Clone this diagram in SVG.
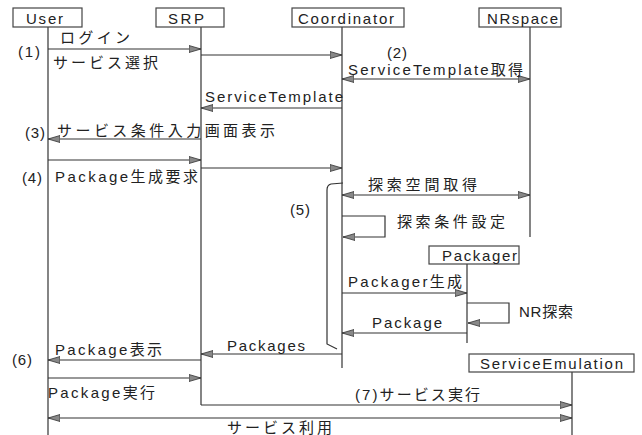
<svg xmlns="http://www.w3.org/2000/svg" width="642" height="435" viewBox="0 0 642 435">
<style>
text{font-family:"Liberation Sans","Noto Sans CJK JP",sans-serif;font-size:15px;fill:#222}
.box{fill:#fff;stroke:#444;stroke-width:1.2}
.life{stroke:#333;stroke-width:1.2;fill:none}
.msg{stroke:#333;stroke-width:1.2;fill:none;marker-end:url(#ah)}
.dbl{stroke:#333;stroke-width:1.2;fill:none;marker-end:url(#ah);marker-start:url(#ahs)}
</style>
<defs>
<marker id="ah" viewBox="0 0 12 8" refX="12" refY="4" markerWidth="12" markerHeight="8" markerUnits="userSpaceOnUse" orient="auto">
<path d="M0,0.5 L12,4 L0,7.5 z" fill="#888" stroke="#333" stroke-width="0.8"/>
</marker>
<marker id="ahs" viewBox="0 0 12 8" refX="0" refY="4" markerWidth="12" markerHeight="8" markerUnits="userSpaceOnUse" orient="auto">
<path d="M12,0.5 L0,4 L12,7.5 z" fill="#888" stroke="#333" stroke-width="0.8"/>
</marker>
</defs>
<rect width="642" height="435" fill="#fff"/>

<g id="lifelines">
<line class="life" x1="48" y1="27" x2="48" y2="435"/>
<line class="life" x1="201" y1="27" x2="201" y2="405"/>
<line class="life" x1="342" y1="27" x2="342" y2="368"/>
<line class="life" x1="530" y1="27" x2="530" y2="237"/>
<line class="life" x1="467" y1="264" x2="467" y2="343"/>
<line class="life" x1="572" y1="372" x2="572" y2="435"/>
</g>

<g id="user">
<rect class="box" x="13" y="8" width="69" height="19"/>
<text x="26" y="24" textLength="37">User</text>
</g>
<g id="srp">
<rect class="box" x="156" y="8" width="68" height="19"/>
<text x="168" y="24" textLength="36">SRP</text>
</g>
<g id="coordinator">
<rect class="box" x="292" y="8" width="112" height="19"/>
<text x="298" y="24" textLength="96">Coordinator</text>
</g>
<g id="nrspace">
<rect class="box" x="479" y="8" width="82" height="19"/>
<text x="487" y="24" textLength="71">NRspace</text>
</g>
<g id="packager">
<rect class="box" x="429" y="246" width="90" height="18"/>
<text x="442" y="261" textLength="75">Packager</text>
</g>
<g id="serviceemulation">
<rect class="box" x="469" y="354" width="165" height="18"/>
<text x="480" y="369" textLength="143">ServiceEmulation</text>
</g>

<g id="connectors">
<line class="msg" x1="48" y1="49" x2="201" y2="49"/>
<line class="msg" x1="201" y1="55" x2="342" y2="55"/>
<line class="dbl" x1="342" y1="79" x2="530" y2="79"/>
<line class="msg" x1="342" y1="108" x2="201" y2="108"/>
<line class="msg" x1="201" y1="139" x2="48" y2="139"/>
<line class="msg" x1="48" y1="160" x2="201" y2="160"/>
<line class="msg" x1="201" y1="168" x2="342" y2="168"/>
<line class="dbl" x1="342" y1="195" x2="530" y2="195"/>
<polyline class="msg" points="342,216 385,216 385,237 343,237"/>
<line class="msg" x1="342" y1="293" x2="467" y2="293"/>
<polyline class="msg" points="467,303 509,303 509,323 468,323"/>
<line class="msg" x1="467" y1="333" x2="342" y2="333"/>
<line class="msg" x1="342" y1="354" x2="201" y2="354"/>
<line class="msg" x1="201" y1="360" x2="48" y2="360"/>
<line class="msg" x1="48" y1="378" x2="201" y2="378"/>
<line class="msg" x1="201" y1="405" x2="572" y2="405"/>
<line class="dbl" x1="48" y1="418" x2="572" y2="418"/>
<path class="life" d="M343,183 L331,184 Q327,185 327,190 L327,344 L337,349"/>
</g>

<g id="labels">
<text x="60" y="43" textLength="70">ログイン</text>
<text x="18" y="57" textLength="22">(1)</text>
<text x="53" y="68" textLength="105">サービス選択</text>
<text x="387" y="58" textLength="20">(2)</text>
<text x="348" y="75" textLength="175">ServiceTemplate取得</text>
<text x="205" y="102" textLength="138">ServiceTemplate</text>
<text x="25" y="138" textLength="20">(3)</text>
<text x="57" y="136" textLength="218">サービス条件入力画面表示</text>
<text x="22" y="183" textLength="20">(4)</text>
<text x="55" y="182" textLength="143">Package生成要求</text>
<text x="290" y="215" textLength="20">(5)</text>
<text x="368" y="190" textLength="109">探索空間取得</text>
<text x="397" y="227" textLength="108">探索条件設定</text>
<text x="348" y="287" textLength="114">Packager生成</text>
<text x="519" y="317" textLength="54">NR探索</text>
<text x="372" y="328" textLength="70">Package</text>
<text x="227" y="351" textLength="78">Packages</text>
<text x="12" y="365" textLength="20">(6)</text>
<text x="55" y="355" textLength="107">Package表示</text>
<text x="48" y="398" textLength="107">Package実行</text>
<text x="355" y="400" textLength="125">(7)サービス実行</text>
<text x="227" y="433" textLength="105">サービス利用</text>
</g>
</svg>
